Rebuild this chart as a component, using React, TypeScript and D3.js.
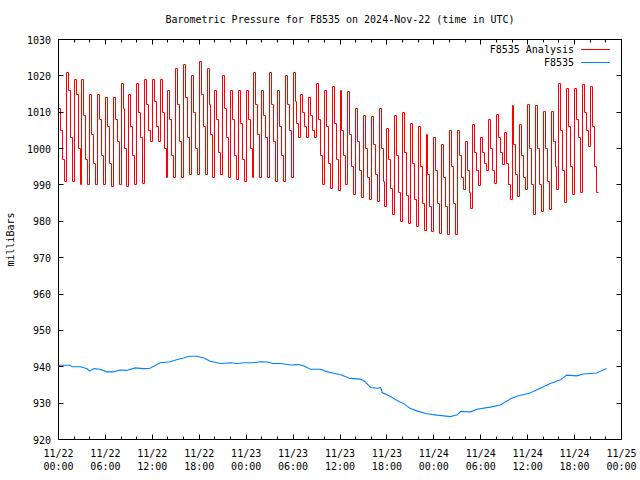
import React from "react";
import * as d3 from "d3";

const title = "Barometric Pressure for F8535 on 2024-Nov-22 (time in UTC)";
const yLabel = "milliBars";
const yTicks = [920, 930, 940, 950, 960, 970, 980, 990, 1000, 1010, 1020, 1030];
const xTickHours = [0, 6, 12, 18, 24, 30, 36, 42, 48, 54, 60, 66, 72];
const xTickDates = ["11/22", "11/22", "11/22", "11/22", "11/23", "11/23", "11/23", "11/23", "11/24", "11/24", "11/24", "11/24", "11/25"];
const xTickTimes = ["00:00", "06:00", "12:00", "18:00", "00:00", "06:00", "12:00", "18:00", "00:00", "06:00", "12:00", "18:00", "00:00"];

// Analysis series: values every 15 minutes from 11/22 00:00
const analysisValues = [
  1011, 1005, 997, 991,
  1021, 1016, 1003, 991,
  1019, 1015, 1000, 990,
  1019, 1009, 997, 990,
  1015, 1004, 996, 990,
  1015, 1008, 998, 990,
  1014, 1006, 996, 989.5,
  1014, 1008, 1002, 990,
  1018, 1011, 1000, 989.5,
  1015, 1006, 998, 990,
  1018, 1010, 1003, 990.5,
  1019, 1012, 1005, 1002,
  1019, 1013, 1006, 1002,
  1019, 1010, 1000, 992,
  1016, 1008, 998, 992,
  1022, 1012, 1002, 992,
  1023, 1014, 1003, 993,
  1020, 1010, 1000, 993,
  1024, 1015, 1006, 993,
  1022, 1012, 1004, 992,
  1016, 1008, 999, 993,
  1020, 1011, 1003, 992,
  1016, 1008, 998, 991.5,
  1016, 1007, 997, 991,
  1016, 1008, 1000, 992,
  1021, 1012, 1004, 992,
  1016, 1009, 1003, 992,
  1021, 1012, 1002, 991,
  1016, 1006, 998, 991,
  1020, 1012, 1005, 992,
  1021, 1013, 1007, 1003,
  1015, 1010, 1006, 1003,
  1014, 1009, 1005, 1003,
  1018, 1008, 998, 990,
  1016, 1006, 996, 989,
  1017, 1007, 997, 988.6,
  1016, 1005, 998, 990,
  1015.6, 1004, 995, 987.3,
  1011, 1002, 994, 986.5,
  1009, 1000, 992, 986,
  1008.7, 1001, 993, 985.5,
  1011, 1000, 991, 984,
  1005.4, 997, 989, 982,
  1009, 998, 988, 980,
  1010, 999, 987, 979.5,
  1007, 996, 986, 978.6,
  1006, 995, 985, 977.6,
  1004, 993, 984, 977.2,
  1003, 994, 985, 976.7,
  1001, 992, 984, 976.5,
  1005, 995, 985, 976.3,
  1005, 998, 992, 988.7,
  1002, 994, 988, 983.6,
  1006.6, 999, 994, 989.8,
  1003, 999, 996, 994,
  1008, 1000, 994, 990.5,
  1009.3, 1003, 999, 995.6,
  1004.5, 996, 990, 986,
  1011.8, 1001, 993, 986.8,
  1006.6, 998, 992, 988.7,
  1012, 1000, 990, 982,
  1011.8, 1000, 990, 982.7,
  1010.3, 1000, 991, 983.2,
  1010.3, 1002, 995, 988.7,
  1018, 1005, 994, 985.2,
  1016.4, 1006, 995, 987.3,
  1016.4, 1008, 1003, 987.8,
  1017.6, 1010, 1005, 1000.6,
  1017.2, 1006, 995, 987.8,
  988,
];

// Station series: hours since 11/22 00:00 and pressure
const stationHours = [0, 1.4, 1.8, 2.8, 3.6, 4.0, 4.5, 5.3, 6.2, 7.0, 7.9, 8.7, 9.8, 10.9, 11.7, 12.4, 13.0, 14.3, 15.2, 16.0, 16.7, 17.7, 18.6, 19.4, 20.7, 22.0, 22.8, 23.7, 25.0, 25.8, 26.7, 27.5, 28.4, 29.7, 30.7, 31.4, 32.2, 33.5, 34.4, 35.2, 36.1, 37.3, 38.6, 39.2, 39.9, 40.8, 41.2, 41.4, 42.4, 43.3, 44.2, 45.0, 45.9, 47.1, 48.4, 50.1, 51.0, 51.4, 52.7, 53.5, 55.2, 56.5, 57.8, 58.6, 60.3, 61.6, 62.9, 64.2, 65.0, 66.3, 67.1, 68.8, 70.1];
const stationValues = [940.4, 940.4, 940.0, 940.0, 939.5, 938.8, 939.5, 939.3, 938.6, 938.6, 939.1, 939.0, 939.7, 939.5, 939.6, 940.4, 941.1, 941.4, 942.0, 942.4, 942.9, 942.9, 942.4, 941.5, 940.9, 941.1, 940.9, 941.1, 941.1, 941.4, 941.3, 940.9, 940.9, 940.5, 940.6, 940.2, 939.3, 939.3, 938.6, 938.2, 937.8, 936.8, 936.6, 935.9, 934.3, 934.1, 934.3, 932.9, 931.9, 930.7, 929.8, 928.5, 927.8, 927.1, 926.7, 926.3, 926.8, 927.7, 927.6, 928.3, 928.9, 929.5, 931.2, 931.9, 932.8, 934.1, 935.4, 936.4, 937.7, 937.5, 938.0, 938.3, 939.5];

const seriesNames = ["F8535 Analysis", "F8535"];
const seriesColors = ["#ff0000", "#0080ff"];

const W = 640, H = 480;
const L = 58.5, R = 621.5, T = 39.5, B = 439.5;
const FONT = "'DejaVu Sans Mono', monospace";

export default function App() {
  const x = d3.scaleLinear().domain([0, 72]).range([L, R]);
  const y = d3.scaleLinear().domain([920, 1030]).range([B, T]);
  const px = (v: number) => Math.round(v - 0.5) + 0.5;

  const analysisPts: [number, number][] = analysisValues.map((v, i) => [i * 0.25, v]);
  const stationPts: [number, number][] = stationHours.map((h, i) => [h, stationValues[i]]);

  const stepLine = d3.line<[number, number]>().x(d => px(x(d[0]))).y(d => px(y(d[1]))).curve(d3.curveStepAfter);
  const line = d3.line<[number, number]>().x(d => x(d[0])).y(d => y(d[1]));

  const minorHours = d3.range(0, 73, 2).filter(h => h % 6 !== 0);

  return (
    <svg width={W} height={H} style={{ position: "absolute", left: 0, top: 0, background: "#fff" }} fontFamily={FONT} fontSize={10}>
      <rect x={0} y={0} width={W} height={H} fill="#fff" />
      <text x={(L + R) / 2} y={23} textAnchor="middle">{title}</text>
      <defs>
        <clipPath id="clip"><rect x={L} y={T} width={R - L} height={B - T} /></clipPath>
      </defs>
      <g clipPath="url(#clip)">
        <path d={stepLine(analysisPts) || ""} fill="none" stroke={seriesColors[0]} strokeWidth={1} />
        <path d={line(stationPts) || ""} fill="none" stroke={seriesColors[1]} strokeWidth={1.1} />
      </g>
      {yTicks.map(v => (
        <g key={"y" + v}>
          <line x1={L} x2={L + 5} y1={px(y(v))} y2={px(y(v))} stroke="#000" />
          <line x1={R} x2={R - 5} y1={px(y(v))} y2={px(y(v))} stroke="#000" />
          <text x={51} y={y(v) + 4} textAnchor="end">{v}</text>
        </g>
      ))}
      {xTickHours.map((h, i) => (
        <g key={"x" + h}>
          <line x1={px(x(h))} x2={px(x(h))} y1={B} y2={B - 5} stroke="#000" />
          <line x1={px(x(h))} x2={px(x(h))} y1={T} y2={T + 5} stroke="#000" />
          <text x={x(h)} y={457} textAnchor="middle">{xTickDates[i]}</text>
          <text x={x(h)} y={470} textAnchor="middle">{xTickTimes[i]}</text>
        </g>
      ))}
      {minorHours.map(h => (
        <g key={"m" + h}>
          <line x1={px(x(h))} x2={px(x(h))} y1={B} y2={B - 3} stroke="#000" />
          <line x1={px(x(h))} x2={px(x(h))} y1={T} y2={T + 3} stroke="#000" />
        </g>
      ))}
      <rect x={L} y={T} width={R - L} height={B - T} fill="none" stroke="#000" />
      <text transform={`translate(14,${(T + B) / 2}) rotate(-90)`} textAnchor="middle">{yLabel}</text>
      {seriesNames.map((n, i) => (
        <g key={n}>
          <text x={574} y={53 + i * 13} textAnchor="end">{n}</text>
          <line x1={581} x2={610} y1={49.5 + i * 13} y2={49.5 + i * 13} stroke={seriesColors[i]} />
        </g>
      ))}
    </svg>
  );
}
